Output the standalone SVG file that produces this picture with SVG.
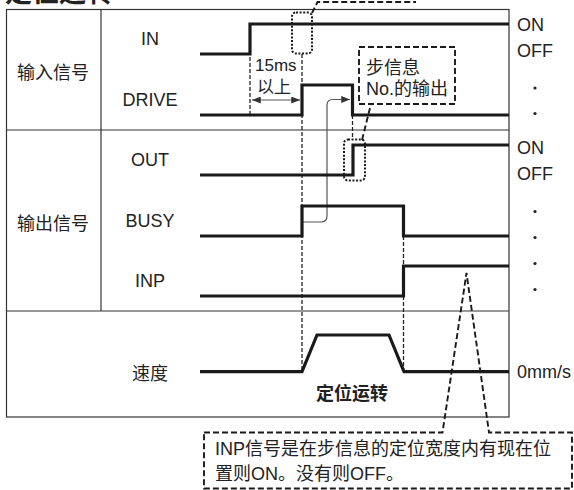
<svg xmlns="http://www.w3.org/2000/svg" width="574" height="490" viewBox="0 0 574 490">
<style>
text{font-family:"Liberation Sans","Noto Sans CJK SC",sans-serif;font-size:18px;fill:#222}
.c{text-anchor:middle}
.b{font-weight:bold}
.frame{fill:none;stroke:#333;stroke-width:1.2}
.sig{fill:none;stroke:#1a1a1a;stroke-width:3.2;stroke-linejoin:miter}
.fd{fill:none;stroke:#222;stroke-width:1.3;stroke-dasharray:4 2}
.dot{fill:none;stroke:#1a1a1a;stroke-width:2;stroke-dasharray:2 1.6}
.cd{fill:none;stroke:#1a1a1a;stroke-width:1.9;stroke-dasharray:6 3}
.thin{fill:none;stroke:#555;stroke-width:1.2}
</style>
<defs>
<marker id="ah" viewBox="0 0 10 8" refX="10" refY="4" markerWidth="10" markerHeight="7" markerUnits="userSpaceOnUse" orient="auto-start-reverse"><path d="M0,0 L10,4 L0,8 z" fill="#333"/></marker>
</defs>
<text class="b" x="5" y="2" style="font-size:27px">定位运转</text>
<g id="frame">
<rect class="frame" x="6.5" y="9.5" width="502.5" height="407.5"/>
<line class="frame" x1="6.5" y1="130" x2="509" y2="130"/>
<line class="frame" x1="6.5" y1="311" x2="509" y2="311"/>
<line class="frame" x1="101" y1="9.5" x2="101" y2="311"/>
</g>
<g id="labels">
<text class="c" x="53" y="79">输入信号</text>
<text class="c" x="53" y="229.5">输出信号</text>
<text class="c" x="150" y="45">IN</text>
<text class="c" x="150" y="106">DRIVE</text>
<text class="c" x="150" y="166">OUT</text>
<text class="c" x="150" y="227">BUSY</text>
<text class="c" x="150" y="287">INP</text>
<text class="c" x="150" y="379.5">速度</text>
<text class="c b" x="352" y="399.5">定位运转</text>
<text x="517" y="31">ON</text>
<text x="517" y="57">OFF</text>
<text x="517" y="154">ON</text>
<text x="517" y="180">OFF</text>
<text x="517" y="378">0mm/s</text>
<g fill="#222"><circle cx="535" cy="88" r="1.6"/><circle cx="535" cy="113.5" r="1.6"/><circle cx="535" cy="211.5" r="1.6"/><circle cx="535" cy="237.5" r="1.6"/><circle cx="535" cy="263.5" r="1.6"/><circle cx="535" cy="289.5" r="1.6"/></g>
</g>
<g id="connectors">
<line class="fd" x1="250" y1="57" x2="250" y2="115"/>
<line class="fd" x1="302" y1="54" x2="302" y2="371"/>
<line class="fd" x1="352.5" y1="115" x2="352.5" y2="140"/>
<line class="fd" x1="403.5" y1="236" x2="403.5" y2="371"/>
<line class="thin" x1="252" y1="100" x2="300" y2="100" marker-start="url(#ah)" marker-end="url(#ah)"/>
<path class="thin" d="M302,222 H321 Q327,222 327,216 V105 Q327,99.5 333,99.5 H350" marker-end="url(#ah)"/>
<path class="cd" d="M312,13 L317.5,2 H416"/>
<path class="cd" d="M362,140 L371,104"/>
<path class="cd" d="M204,432.5 H442.5 L466.5,273 L489,432.5 H572 V488.5 H204 Z"/>
</g>
<g id="signals">
<path class="sig" d="M200,54 H250 V24 H509"/>
<path class="sig" d="M200,115 H302 V85 H352.5 V115 H509"/>
<path class="sig" d="M200,175 H353 V145 H509"/>
<path class="sig" d="M200,236 H302 V206 H403.5 V236 H509"/>
<path class="sig" d="M200,296 H403.5 V266 H509"/>
<path class="sig" d="M200,371.7 H302 L317,335 H389 L404,371.7 H509"/>
</g>
<g id="callouts">
<rect class="dot" x="292" y="12.5" width="20" height="41" rx="4"/>
<rect class="dot" x="344" y="139.5" width="21" height="41" rx="4"/>
<rect class="cd" x="359" y="47" width="96" height="57"/>
<text x="366" y="74">步信息</text>
<text x="366" y="95">No.的输出</text>
<text x="255" y="71" style="font-size:17px">15ms</text>
<text x="257" y="93" style="font-size:17px">以上</text>
<text x="215" y="455">INP信号是在步信息的定位宽度内有现在位</text>
<text x="215" y="480">置则ON。没有则OFF。</text>
</g>
</svg>
